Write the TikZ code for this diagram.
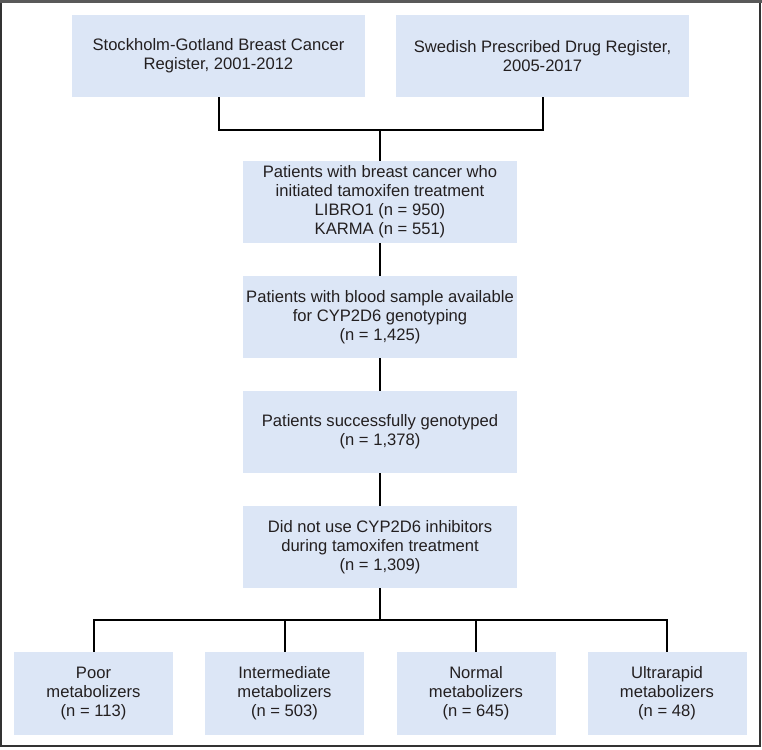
\documentclass[tikz,border=0pt]{standalone}
\usepackage{fontspec}
\setmainfont{Liberation Sans}
\begin{document}
\begin{tikzpicture}[x=1pt,y=-1pt,
  box/.style={rectangle, fill=boxblue, draw=none, align=center, text=txt,
    font=\fontsize{16.6}{19}\selectfont, inner sep=0pt},
  wide/.style={box, minimum width=293pt, minimum height=82pt},
  mid/.style={box, minimum width=274pt, minimum height=82pt},
  leaf/.style={box, minimum width=159pt, minimum height=83pt},
  conn/.style={draw=black, line width=2pt, line join=miter}]
\definecolor{boxblue}{HTML}{DCE6F6}
\definecolor{txt}{HTML}{231F20}
\useasboundingbox (0,0) rectangle (762,749);
% frame
\draw[draw=black!80, line width=1.5pt] (1,1.5) rectangle (760,746);
\draw[draw=black!65, line width=3pt] (0,1.5) -- (762,1.5);
% nodes
\node[wide] (t1) at (218.5,56) {Stockholm-Gotland Breast Cancer\\Register, 2001-2012};
\node[wide] (t2) at (542.5,56) {Swedish Prescribed Drug Register,\\2005-2017};
\node[mid] (b2) at (380,202) {Patients with breast cancer who\\initiated tamoxifen treatment\\LIBRO1 (n = 950)\\KARMA (n = 551)};
\node[mid] (b3) at (380,317) {Patients with blood sample available\\for CYP2D6 genotyping\\(n = 1,425)};
\node[mid] (b4) at (380,432) {Patients successfully genotyped\\(n = 1,378)};
\node[mid] (b5) at (380,547) {Did not use CYP2D6 inhibitors\\during tamoxifen treatment\\(n = 1,309)};
\node[leaf] (p) at (93.5,693.5) {Poor\\metabolizers\\(n = 113)};
\node[leaf] (i) at (284.5,693.5) {Intermediate\\metabolizers\\(n = 503)};
\node[leaf] (n) at (476,693.5) {Normal\\metabolizers\\(n = 645)};
\node[leaf] (u) at (667,693.5) {Ultrarapid\\metabolizers\\(n = 48)};
\coordinate (j1) at (380,130);
\coordinate (j2) at (380,620);
% connectors
\draw[conn] (t1.south) |- (j1);
\draw[conn] (t2.south) |- (j1);
\draw[conn] (j1) -- (b2.north);
\draw[conn] (b2) -- (b3);
\draw[conn] (b3) -- (b4);
\draw[conn] (b4) -- (b5);
\draw[conn] (b5.south) -- (j2);
\draw[conn] (p.north) |- (j2);
\draw[conn] (u.north) |- (j2);
\draw[conn] (i.north) -- (i.north |- j2);
\draw[conn] (n.north) -- (n.north |- j2);
\end{tikzpicture}
\end{document}
